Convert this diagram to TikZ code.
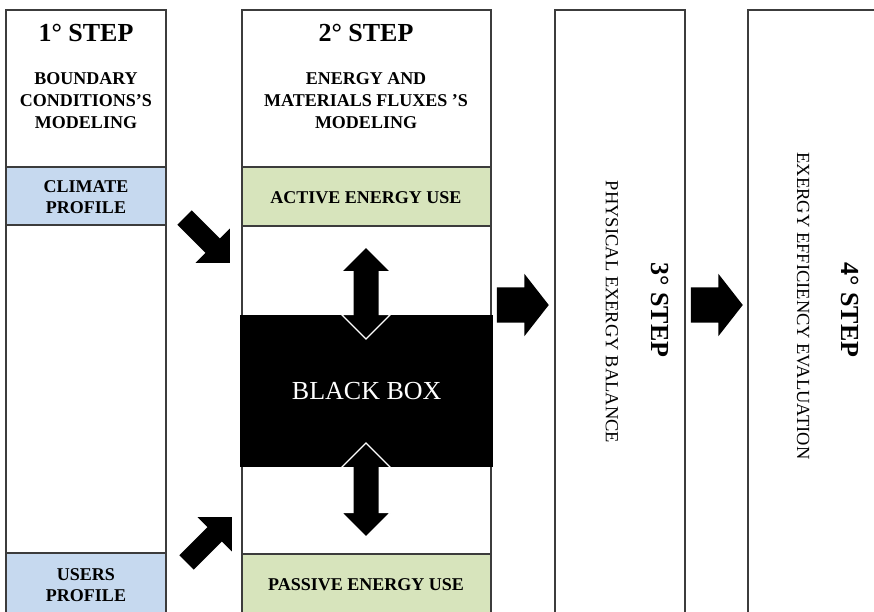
\documentclass[tikz,border=0pt]{standalone}
\usepackage{fontspec}
\setmainfont{Liberation Serif}
\usetikzlibrary{arrows.meta, positioning, shapes.arrows}

\definecolor{profileblue}{RGB}{198,217,239}
\definecolor{usegreen}{RGB}{215,228,188}
\definecolor{framegray}{RGB}{60,60,60}

\tikzset{
  colbox/.style={draw=framegray, line width=1.4pt, anchor=north west, inner sep=0pt, outer sep=0pt},
  steptitle/.style={font=\fontsize{26}{30}\selectfont\bfseries},
  stepsub/.style={font=\fontsize{18}{22}\selectfont\bfseries, align=center},
  celltext/.style={font=\fontsize{18}{21}\selectfont\bfseries, align=center},
  sidetext/.style={font=\fontsize{18.5}{22}\selectfont, rotate=-90},
  flowarrow/.style={single arrow, fill=black, inner xsep=0pt, anchor=tip, single arrow tip angle=#1},
  dblarrow/.style={double arrow, fill=black, draw=white, line width=1.3pt, inner xsep=0pt,
    inner ysep=12.5pt, rotate=90, double arrow tip angle=90, double arrow head extend=11.5pt}
}

\begin{document}
\begin{tikzpicture}[x=1pt, y=-1pt]
  \useasboundingbox (0,0) rectangle (874,611);
  \clip (0,0) rectangle (874,611);

  % the four step columns
  \node[colbox, minimum width=160pt, minimum height=620pt] (col1) at (6,10) {};
  \node[colbox, minimum width=249pt, minimum height=620pt] (col2) at (242,10) {};
  \node[colbox, minimum width=130pt, minimum height=620pt] (col3) at (555,10) {};
  \node[colbox, minimum width=150pt, minimum height=620pt] (col4) at (748,10) {};

  % coloured cells
  \node[colbox, fill=profileblue, minimum width=160pt, minimum height=58pt] (climate) at (6,167) {};
  \node[colbox, fill=profileblue, minimum width=160pt, minimum height=70pt] (users) at (6,553) {};
  \node[colbox, fill=usegreen, minimum width=249pt, minimum height=59pt] (active) at (242,167) {};
  \node[colbox, fill=usegreen, minimum width=249pt, minimum height=70pt] (passive) at (242,554) {};

  % headers
  \node[steptitle] (step1) at (86,33) {1° STEP};
  \node[stepsub] (bound) at (86,101) {BOUNDARY\\CONDITIONS’S\\MODELING};
  \node[steptitle] (step2) at (366,33) {2° STEP};
  \node[stepsub] (fluxes) at (366,101) {ENERGY AND\\MATERIALS FLUXES ’S\\MODELING};

  \node[celltext] at (86,197) {CLIMATE\\PROFILE};
  \node[celltext] at (86,585) {USERS\\PROFILE};
  \node[celltext] at (366,198) {ACTIVE ENERGY USE};
  \node[celltext] at (366,585) {PASSIVE ENERGY USE};

  % black box
  \node[fill=black, text=white, anchor=north west, inner sep=0pt, minimum width=253pt,
    minimum height=152pt, font=\fontsize{26}{30}\selectfont] (blackbox) at (240,315) {BLACK BOX};

  \node[dblarrow, minimum height=92pt] (uparrow) at (366,293) {};
  \node[dblarrow, minimum height=94pt] (downarrow) at (366,490) {};

  % inputs to the black box
  \node[flowarrow=90, inner ysep=10pt, single arrow head extend=14pt,
    minimum height=64pt, rotate=-45] (climatein) at (230,263) {};
  \node[flowarrow=90, inner ysep=10pt, single arrow head extend=14pt,
    minimum height=64pt, rotate=45] (usersin) at (232,517) {};

  % steps 3 and 4
  \node[flowarrow=104, inner ysep=17.5pt, single arrow head extend=13.5pt,
    minimum height=52pt] (to3) at (549,305) {};
  \node[flowarrow=104, inner ysep=17.5pt, single arrow head extend=13.5pt,
    minimum height=52pt] (to4) at (743,305) {};

  \node[steptitle, rotate=-90] (step3) at (660,310) {3° STEP};
  \node[sidetext] (balance) at (612,312) {PHYSICAL EXERGY BALANCE};
  \node[steptitle, rotate=-90] (step4) at (850,310) {4° STEP};
  \node[sidetext] (evaluation) at (803,306) {EXERGY EFFICIENCY EVALUATION};
\end{tikzpicture}
\end{document}
